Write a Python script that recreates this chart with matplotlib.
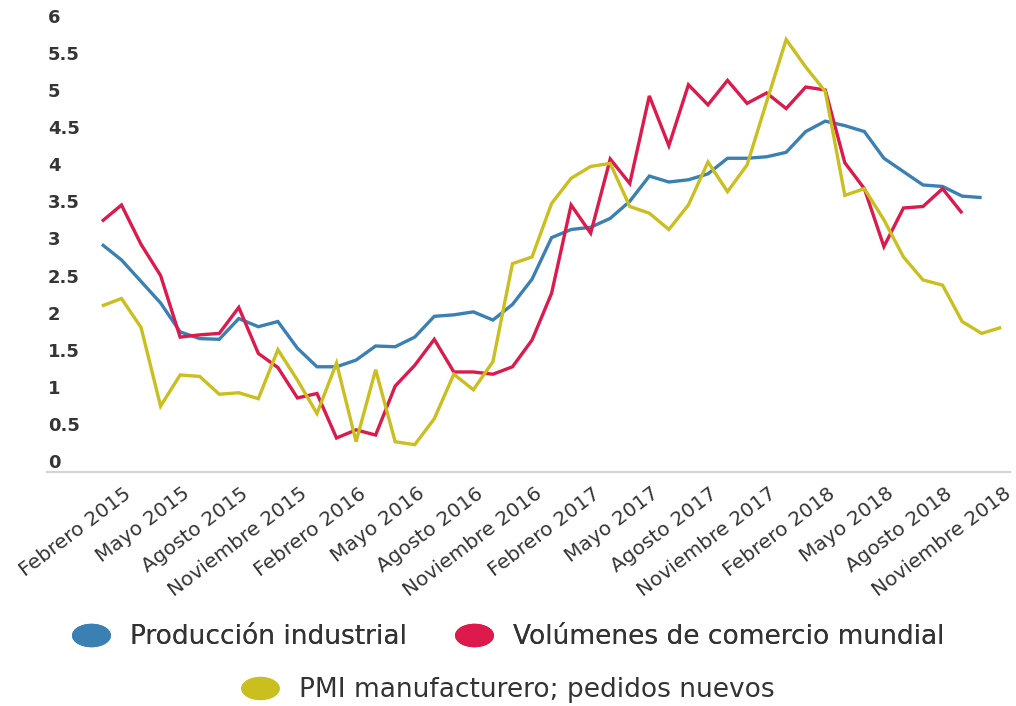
import numpy as np
import matplotlib
matplotlib.use("Agg")
import matplotlib.pyplot as plt
from matplotlib.path import Path
from matplotlib.transforms import Affine2D, ScaledTranslation
from matplotlib.lines import Line2D

# ---------------- data (monthly, starting Febrero 2015) ----------------
produccion_industrial = [2.92, 2.71, 2.42, 2.13, 1.74, 1.65, 1.64, 1.92, 1.81, 1.88,
                         1.52, 1.27, 1.27, 1.36, 1.55, 1.54, 1.67, 1.95, 1.97, 2.01,
                         1.90, 2.11, 2.45, 3.01, 3.12, 3.15, 3.27, 3.50, 3.84, 3.76,
                         3.79, 3.87, 4.08, 4.08, 4.10, 4.16, 4.44, 4.58, 4.52, 4.44,
                         4.08, 3.90, 3.72, 3.70, 3.57, 3.55]
comercio_mundial = [3.23, 3.45, 2.92, 2.50, 1.67, 1.70, 1.72, 2.07, 1.45, 1.26,
                    0.85, 0.91, 0.31, 0.42, 0.35, 1.01, 1.29, 1.64, 1.20, 1.20,
                    1.17, 1.27, 1.63, 2.26, 3.45, 3.07, 4.07, 3.74, 4.92, 4.25,
                    5.07, 4.80, 5.13, 4.82, 4.96, 4.75, 5.04, 5.00, 4.02, 3.67,
                    2.89, 3.41, 3.43, 3.67, 3.34]
pmi_pedidos = [2.09, 2.19, 1.80, 0.74, 1.16, 1.14, 0.90, 0.92, 0.84, 1.50,
               1.09, 0.64, 1.32, 0.26, 1.23, 0.26, 0.22, 0.57, 1.17, 0.96,
               1.34, 2.66, 2.75, 3.47, 3.81, 3.97, 4.01, 3.43, 3.34, 3.12,
               3.45, 4.03, 3.63, 3.99, 4.84, 5.68, 5.31, 4.98, 3.58, 3.67,
               3.25, 2.75, 2.44, 2.37, 1.88, 1.72, 1.80]

x_tick_labels = ["Febrero 2015", "Mayo 2015", "Agosto 2015", "Noviembre 2015",
                 "Febrero 2016", "Mayo 2016", "Agosto 2016", "Noviembre 2016",
                 "Febrero 2017", "Mayo 2017", "Agosto 2017", "Noviembre 2017",
                 "Febrero 2018", "Mayo 2018", "Agosto 2018", "Noviembre 2018"]
y_ticks = [0, 0.5, 1, 1.5, 2, 2.5, 3, 3.5, 4, 4.5, 5, 5.5, 6]
y_tick_labels = ["0", "0.5", "1", "1.5", "2", "2.5", "3", "3.5", "4", "4.5", "5", "5.5", "6"]

series_names = ["Producción industrial", "Volúmenes de comercio mundial",
                "PMI manufacturero; pedidos nuevos"]
colors = ["#3b80b3", "#dc1a4c", "#c9bf1f"]

plt.rcParams["font.family"] = ["DejaVu Sans"]

W, H = 1016, 706
fig = plt.figure(figsize=(W / 100, H / 100), dpi=100)
# axes in pixel coordinates: left 47, right 1010, top 10, bottom 472
ax = fig.add_axes([47 / W, 1 - 472 / H, (1010 - 47) / W, (472 - 10) / H])

for vals, c in zip([produccion_industrial, comercio_mundial, pmi_pedidos], colors):
    ax.plot(np.arange(len(vals)), vals, color=c, lw=2.4,
            solid_joinstyle="miter", solid_capstyle="butt")

ax.set_xlim(-2.81, 46.45)
ax.set_ylim(-0.148, 6.078)

for s in ["top", "right", "left"]:
    ax.spines[s].set_visible(False)
ax.spines["bottom"].set_color("#d4d4d4")
ax.spines["bottom"].set_linewidth(1.6)

# y ticks: labels inside plot on the left
ax.set_yticks(y_ticks)
ax.set_yticklabels(y_tick_labels, fontsize=13, fontweight="bold", color="#353535")
ax.tick_params(axis="y", length=0, pad=-0.8)
for lbl in ax.get_yticklabels():
    lbl.set_horizontalalignment("left")

# x ticks every 3 months
ax.set_xticks(np.arange(0, 3 * len(x_tick_labels), 3))
ax.set_xticklabels(x_tick_labels, rotation=37, ha="right", va="center",
                   rotation_mode="anchor", fontsize=14.5, color="#353535")
ax.tick_params(axis="x", length=0, pad=14)
offset = ScaledTranslation(27 / 100, 0, fig.dpi_scale_trans)
for lbl in ax.get_xticklabels():
    lbl.set_transform(lbl.get_transform() + offset)

# legend with elliptical markers
ell = Affine2D().scale(1.7, 1.0).transform_path(Path.unit_circle())
handles = [Line2D([], [], linestyle="none", marker=ell, markersize=27,
                  markerfacecolor=c, markeredgecolor=c) for c in colors]

fs = 19
px = fs * 100 / 72
leg1 = fig.legend(handles[:2], series_names[:2], loc="center",
                  bbox_to_anchor=(0.5, 1 - 637 / H), ncol=2, frameon=False,
                  fontsize=fs, handlelength=38 / px, handletextpad=20 / px,
                  columnspacing=48 / px, borderpad=0, labelcolor="#333333")
fig.add_artist(leg1)
leg2 = fig.legend(handles[2:], series_names[2:], loc="center",
                  bbox_to_anchor=(0.5, 1 - 690 / H), ncol=1, frameon=False,
                  fontsize=fs, handlelength=38 / px, handletextpad=20 / px,
                  borderpad=0, labelcolor="#333333")

fig.savefig("out.png", dpi=100, facecolor="white")
